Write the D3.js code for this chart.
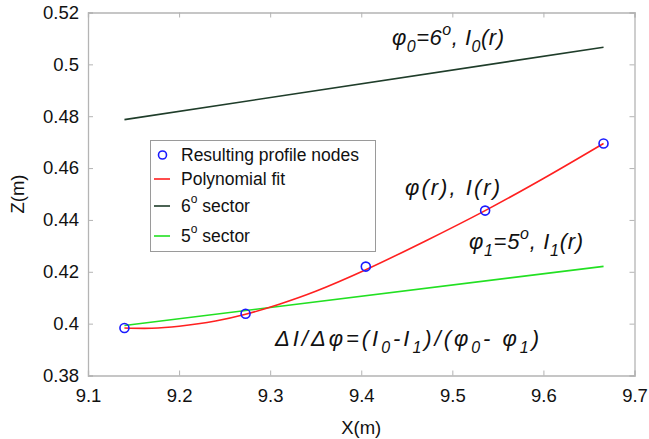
<!DOCTYPE html>
<html><head><meta charset="utf-8">
<script src="https://cdn.jsdelivr.net/npm/d3@7"></script>
<style>body{margin:0;background:#fff;} text{font-family:Arial,"Liberation Sans",sans-serif;}</style>
</head><body><svg id="c" width="649" height="439"></svg>
<script>
const xTicks = [9.1, 9.2, 9.3, 9.4, 9.5, 9.6, 9.7];
const yTicks = [0.38, 0.4, 0.42, 0.44, 0.46, 0.48, 0.5, 0.52];
const nodeX = [9.140, 9.273, 9.405, 9.536, 9.666];
const nodeZ = [0.3983, 0.4038, 0.4220, 0.4436, 0.4695];
const fitX = [9.140, 9.170, 9.200, 9.240, 9.273, 9.310, 9.350, 9.405, 9.470, 9.536, 9.600, 9.666];
const fitZ = [0.3983, 0.3982, 0.3990, 0.4010, 0.4036, 0.4075, 0.4125, 0.4208, 0.4318, 0.4436, 0.4560, 0.4695];
const sector6X = [9.140, 9.666];
const sector6Z = [0.4787, 0.5066];
const sector5X = [9.140, 9.666];
const sector5Z = [0.3993, 0.4221];

const svg = d3.select("#c");
const L = 88, R = 634.5, T = 12.5, B = 375.5;
const x = d3.scaleLinear().domain([9.1, 9.7]).range([L, R]);
const y = d3.scaleLinear().domain([0.38, 0.52]).range([B, T]);
const axisCol = "#b4b4b4";

// axes
const gx = svg.append("g").attr("transform", `translate(0,${B})`)
  .call(d3.axisBottom(x).tickValues(xTicks).tickSize(-5).tickPadding(13).tickFormat(d3.format("")));
const gy = svg.append("g").attr("transform", `translate(${L},0)`)
  .call(d3.axisLeft(y).tickValues(yTicks).tickSize(-5).tickPadding(9).tickFormat(d3.format("")));
const gx2 = svg.append("g").attr("transform", `translate(0,${T})`)
  .call(d3.axisTop(x).tickValues(xTicks).tickSize(-5).tickFormat(""));
const gy2 = svg.append("g").attr("transform", `translate(${R},0)`)
  .call(d3.axisRight(y).tickValues(yTicks).tickSize(-5).tickFormat(""));
[gx, gy, gx2, gy2].forEach(g => {
  g.select(".domain").attr("stroke", axisCol).attr("stroke-width", 1.3);
  g.selectAll(".tick line").attr("stroke", axisCol);
  g.selectAll("text").attr("font-size", 18.5).attr("fill", "#111").attr("font-family", "Arial, 'Liberation Sans', sans-serif");
});

svg.append("text").attr("x", (L + R) / 2).attr("y", 434).attr("text-anchor", "middle")
  .attr("font-size", 18.5).attr("fill", "#111").text("X(m)");
svg.append("text").attr("transform", `translate(24,${(T + B) / 2}) rotate(-90)`).attr("text-anchor", "middle")
  .attr("font-size", 18.5).attr("fill", "#111").text("Z(m)");

const line = d3.line().x(d => x(d[0])).y(d => y(d[1]));
svg.append("path").datum(d3.zip(sector6X, sector6Z)).attr("d", line)
  .attr("fill", "none").attr("stroke", "#1f3d2a").attr("stroke-width", 1.6);
svg.append("path").datum(d3.zip(sector5X, sector5Z)).attr("d", line)
  .attr("fill", "none").attr("stroke", "#22e022").attr("stroke-width", 1.6);
svg.append("path").datum(d3.zip(fitX, fitZ)).attr("d", line.curve(d3.curveCatmullRom))
  .attr("fill", "none").attr("stroke", "#ff2020").attr("stroke-width", 1.6);
svg.selectAll("circle.node").data(d3.zip(nodeX, nodeZ)).join("circle").attr("class", "node")
  .attr("cx", d => x(d[0])).attr("cy", d => y(d[1])).attr("r", 4.5)
  .attr("fill", "none").attr("stroke", "#1a1aff").attr("stroke-width", 1.6);

// legend
const lg = svg.append("g");
lg.append("rect").attr("x", 150.5).attr("y", 140.5).attr("width", 225).attr("height", 111)
  .attr("fill", "#fff").attr("stroke", "#9a9a9a").attr("stroke-width", 1);
const legItems = [
  {t: "Resulting profile nodes", type: "circle", c: "#1a1aff", yy: 155},
  {t: "Polynomial fit", type: "line", c: "#ff2020", yy: 179},
  {t: "6", sup: "o", rest: " sector", type: "line", c: "#1f3d2a", yy: 206},
  {t: "5", sup: "o", rest: " sector", type: "line", c: "#22e022", yy: 236}
];
legItems.forEach(it => {
  if (it.type === "circle") {
    lg.append("circle").attr("cx", 162.5).attr("cy", it.yy).attr("r", 4).attr("fill", "none")
      .attr("stroke", it.c).attr("stroke-width", 1.6);
  } else {
    lg.append("line").attr("x1", 154).attr("x2", 170).attr("y1", it.yy).attr("y2", it.yy)
      .attr("stroke", it.c).attr("stroke-width", 1.6);
  }
  const tx = lg.append("text").attr("x", 181).attr("y", it.yy + 6).attr("font-size", 17.5).attr("fill", "#111");
  tx.append("tspan").text(it.t);
  if (it.sup) {
    tx.append("tspan").attr("dy", -9).attr("font-size", 12).text(it.sup);
    tx.append("tspan").attr("dy", 9).attr("font-size", 17.5).text(it.rest);
  }
});

// annotations
function ann(xp, yp, w, parts) {
  const t = svg.append("text").attr("x", xp).attr("y", yp).attr("font-size", 22)
    .attr("font-style", "italic").attr("fill", "#111")
    .attr("textLength", w).attr("lengthAdjust", "spacing");
  let cur = 0;
  parts.forEach(p => {
    const off = p.sub ? 7 : p.sup ? -10 : 0;
    t.append("tspan").attr("dy", off - cur).attr("font-size", p.sub || p.sup ? 16 : 22).text(p.s);
    cur = off;
  });
}
ann(392, 45, 112, [{s: "φ"}, {s: "0", sub: 1}, {s: "=6"}, {s: "o", sup: 1}, {s: ", I"}, {s: "0", sub: 1}, {s: "(r)"}]);
ann(405, 195, 95, [{s: "φ(r), I(r)"}]);
ann(469, 249, 114, [{s: "φ"}, {s: "1", sub: 1}, {s: "=5"}, {s: "o", sup: 1}, {s: ", I"}, {s: "1", sub: 1}, {s: "(r)"}]);
ann(275, 346, 264, [{s: "ΔI/Δφ=(I"}, {s: "0", sub: 1}, {s: "-I"}, {s: "1", sub: 1}, {s: ")/(φ"}, {s: "0", sub: 1}, {s: "- φ"}, {s: "1", sub: 1}, {s: ")"}]);
</script></body></html>
